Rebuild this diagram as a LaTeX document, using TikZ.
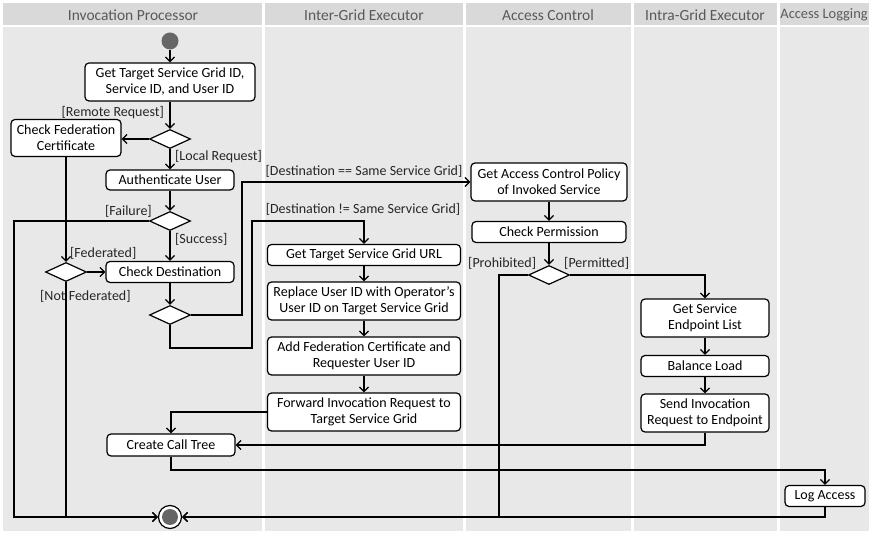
\documentclass[tikz,border=0pt]{standalone}
\usepackage{fontspec}
\setmainfont{Carlito}
\usetikzlibrary{arrows.meta,shapes.geometric}
\definecolor{headgray}{HTML}{D9D9D9}
\definecolor{bodygray}{HTML}{E8E8E8}
\definecolor{headtext}{HTML}{595959}
\definecolor{dotgray}{HTML}{666666}
\definecolor{lbltext}{HTML}{262626}
\newcommand{\nfont}{\fontsize{14}{16}\selectfont}
\newcommand{\hfont}{\fontsize{15.5}{18}\selectfont}
\newcommand{\hsfont}{\fontsize{14.4}{18}\selectfont}
\begin{document}
\begin{tikzpicture}[x=1pt,y=-1pt,
  headtxt/.style={font=\hfont, text=headtext, inner sep=0pt},
  act/.style={draw=black, fill=white, rounded corners=4pt, line width=1.2pt, font=\nfont, align=center, inner sep=0pt},
  dec/.style={diamond, draw=black, fill=white, line width=1.2pt, minimum width=41pt, minimum height=19pt, inner sep=0pt},
  arr/.style={line width=1.3pt, -{Straight Barb[length=4.5pt,width=9pt]}},
  lbl/.style={font=\nfont, text=lbltext, inner sep=0pt},
  startc/.style={circle, fill=dotgray, minimum size=17pt, inner sep=0pt},
  endc/.style={circle, draw=black, fill=white, line width=1.2pt, minimum size=23pt, inner sep=0pt},
  endin/.style={circle, fill=dotgray, minimum size=16pt, inner sep=0pt}]
\useasboundingbox (0,0) rectangle (871,534);
\fill[white] (0,0) rectangle (871,534);
% lanes
\fill[headgray] (3,3) rectangle (262,25);
\fill[headgray] (265,3) rectangle (463,25);
\fill[headgray] (466,3) rectangle (631,25);
\fill[headgray] (634,3) rectangle (777,25);
\fill[headgray] (780,3) rectangle (869,25);
\fill[bodygray] (3,27) rectangle (262,531);
\fill[bodygray] (265,27) rectangle (463,531);
\fill[bodygray] (466,27) rectangle (631,531);
\fill[bodygray] (634,27) rectangle (777,531);
\fill[bodygray] (780,27) rectangle (869,531);
\node[headtxt] (h1) at (133,15) {Invocation Processor};
\node[headtxt] (h2) at (364,15) {Inter-Grid Executor};
\node[headtxt] (h3) at (548,15) {Access Control};
\node[headtxt] (h4) at (705,15) {Intra-Grid Executor};
\node[headtxt, font=\hsfont] (h5) at (824,15) {Access Logging};
% nodes
\node[startc] (start) at (170,41) {};
\node[act, minimum width=170pt, minimum height=38pt] (get) at (170,82) {Get Target Service Grid ID,\\Service ID, and User ID};
\node[dec] (d1) at (170,139) {};
\node[act, minimum width=110pt, minimum height=37pt] (cfc) at (66,138) {Check Federation\\Certificate};
\node[act, minimum width=128pt, minimum height=20pt] (auth) at (170,180) {Authenticate User};
\node[dec] (d2) at (170,221) {};
\node[act, minimum width=128pt, minimum height=21pt] (cd) at (170,272) {Check Destination};
\node[dec] (fd) at (66,272) {};
\node[dec] (d3) at (170,315) {};
\node[act, minimum width=128pt, minimum height=22pt] (cct) at (171,445) {Create Call Tree};
\node[act, minimum width=193pt, minimum height=21pt] (gurl) at (364,255) {Get Target Service Grid URL};
\node[act, minimum width=193pt, minimum height=38pt] (rep) at (364,301) {Replace User ID with Operator’s\\User ID on Target Service Grid};
\node[act, minimum width=193pt, minimum height=38pt] (add) at (364,356) {Add Federation Certificate and\\Requester User ID};
\node[act, minimum width=193pt, minimum height=38pt] (fwd) at (364,412) {Forward Invocation Request to\\Target Service Grid};
\node[act, minimum width=156pt, minimum height=38pt] (acp) at (549,182) {Get Access Control Policy\\of Invoked Service};
\node[act, minimum width=154pt, minimum height=21pt] (cp) at (549,232) {Check Permission};
\node[dec] (d4) at (549,275) {};
\node[act, minimum width=128pt, minimum height=38pt] (gsel) at (705,318) {Get Service\\Endpoint List};
\node[act, minimum width=128pt, minimum height=21pt] (bl) at (705,366) {Balance Load};
\node[act, minimum width=128pt, minimum height=38pt] (sie) at (705,413) {Send Invocation\\Request to Endpoint};
\node[act, minimum width=80pt, minimum height=21pt] (la) at (825,496) {Log Access};
\node[endc] (end) at (170,517) {};
\node[endin] (endi) at (end) {};
% bend points
\coordinate (fl) at (14,517);
\coordinate (b1) at (242,315);
\coordinate (b2) at (252,348);
\coordinate (b3) at (252,221);
\coordinate (c1) at (825,470);
\coordinate (p1) at (499,517);
% labels
\node[lbl, anchor=east] (lrr) at (164,113) {[Remote Request]};
\node[lbl, anchor=west] (llr) at (175,157) {[Local Request]};
\node[lbl, anchor=east] (lfa) at (152,211) {[Failure]};
\node[lbl, anchor=west] (lsu) at (175,239) {[Success]};
\node[lbl, anchor=west] (lfe) at (70,253) {[Federated]};
\node[lbl, anchor=west] (lnf) at (40,296) {[Not Federated]};
\node[lbl] (lsame) at (364,171) {[Destination == Same Service Grid]};
\node[lbl] (ldiff) at (363,209) {[Destination != Same Service Grid]};
\node[lbl, anchor=west] (lpro) at (468,263) {[Prohibited]};
\node[lbl, anchor=west] (lper) at (564,263) {[Permitted]};
% connectors
\draw[arr] (start) -- (get);
\draw[arr] (get) -- (d1);
\draw[arr] (d1.west) -- (d1.west -| cfc.east);
\draw[arr] (d1) -- (auth);
\draw[arr] (auth) -- (d2);
\draw[arr] (d2) -- (cd);
\draw[arr] (d2.west) -| (fl) -- (end.west);
\draw[arr] (cfc) -- (fd);
\draw[arr] (fd) -- (cd);
\draw[arr] (fd.south) |- (end.west);
\draw[arr] (cd) -- (d3);
\draw[arr] (d3.east) -- (b1) |- (acp.west);
\draw[arr] (d3.south) |- (b2) -- (b3) -| (gurl.north);
\draw[arr] (gurl) -- (rep);
\draw[arr] (rep) -- (add);
\draw[arr] (add) -- (fwd);
\draw[arr] (fwd.west) -| (cct.north);
\draw[arr] (sie.south) |- (cct.east);
\draw[arr] (cct.south) |- (c1) -- (la.north);
\draw[arr] (la.south) |- (end.east);
\draw[arr] (acp) -- (cp);
\draw[arr] (cp) -- (d4);
\draw[arr] (d4.west) -| (p1) -- (end.east);
\draw[arr] (d4.east) -| (gsel.north);
\draw[arr] (gsel) -- (bl);
\draw[arr] (bl) -- (sie);
\end{tikzpicture}
\end{document}
